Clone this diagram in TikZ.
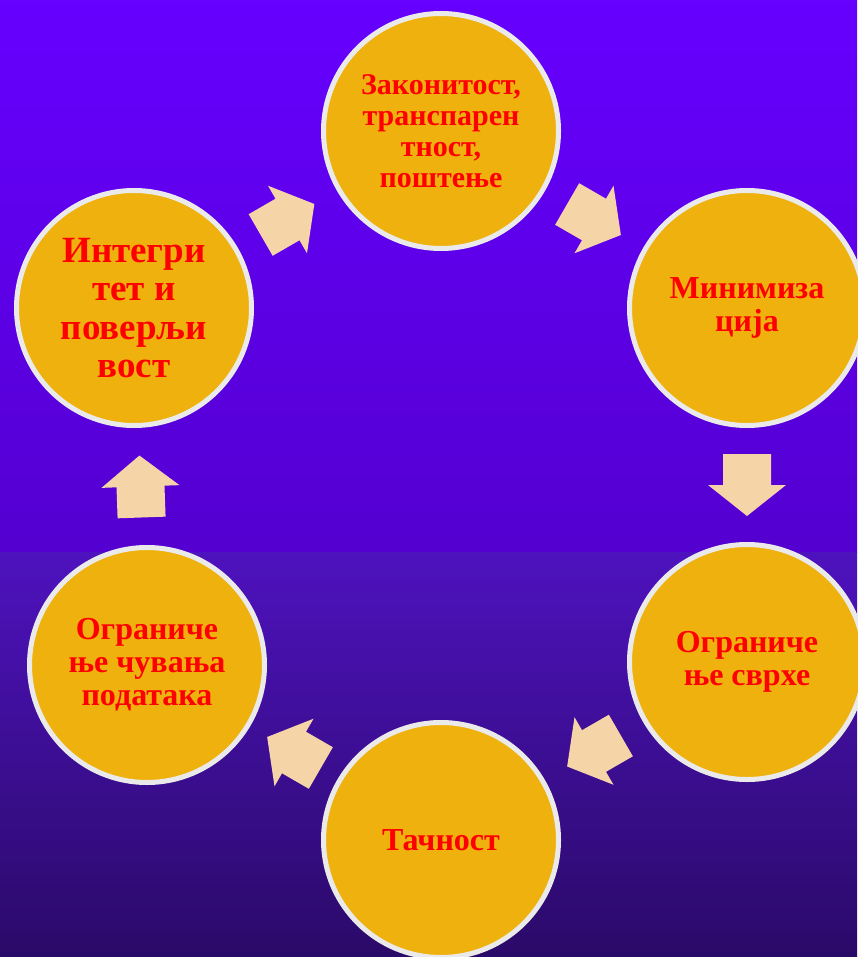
\documentclass[tikz,border=0pt]{standalone}
\usepackage{fontspec}
\setmainfont{Liberation Serif}
\usetikzlibrary{calc}
\definecolor{bgA}{RGB}{102,0,255}
\definecolor{bgB}{RGB}{84,0,208}
\definecolor{bgC}{RGB}{78,18,190}
\definecolor{bgD}{RGB}{42,10,104}
\definecolor{disc}{RGB}{238,177,14}
\definecolor{rim}{RGB}{234,234,234}
\definecolor{peach}{RGB}{245,213,168}
\definecolor{txt}{RGB}{255,0,0}
\begin{document}
\begin{tikzpicture}[x=1pt,y=1pt,
  stage/.style={circle, fill=disc, draw=rim, line width=5pt, minimum size=235pt,
    inner sep=0pt, align=center, text=txt, font=\bfseries\fontsize{32}{33}\selectfont},
  barrow/.pic={\fill[peach] (-31,-24) -- (0,-24) -- (0,-39) -- (31,0) -- (0,39) -- (0,24) -- (-31,24) -- cycle;}
]
\useasboundingbox (0,0) rectangle (857,-957);
\shade[top color=bgA, bottom color=bgB] (0,0) rectangle (857,-552);
\shade[top color=bgC, bottom color=bgD] (0,-552) rectangle (857,-957);

\node[stage, font=\bfseries\fontsize{30}{31}\selectfont] (top) at (441,-131) {Законитост,\\транспарен\\тност,\\поштење};
\node[stage] (ru) at (747,-308) {Минимиза\\ција};
\node[stage] (rl) at (747,-662) {Ограниче\\ње сврхе};
\node[stage] (bot) at (441,-840) {Тачност};
\node[stage] (ll) at (147,-665) {Ограниче\\ње чувања\\података};
\node[stage, font=\bfseries\fontsize{37}{38.3}\selectfont] (lu) at (134,-308) {Интегри\\тет и\\поверљи\\вост};

\pic[rotate=30] at ($(lu)!0.5!(top)$) {barrow};
\pic[rotate=-30] at ($(top)!0.5!(ru)$) {barrow};
\pic[rotate=-90] at ($(ru)!0.5!(rl)$) {barrow};
\pic[rotate=-150] at ($(rl)!0.5!(bot)$) {barrow};
\pic[rotate=150] at ($(bot)!0.5!(ll)$) {barrow};
\pic[rotate=92] at ($(ll)!0.5!(lu)$) {barrow};
\end{tikzpicture}
\end{document}
